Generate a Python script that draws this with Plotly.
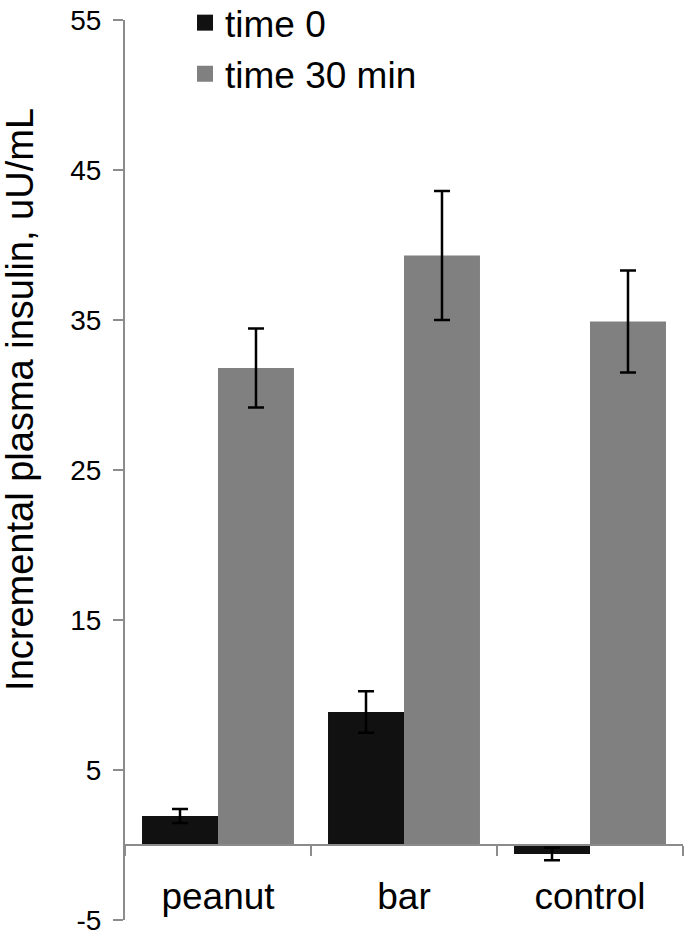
import plotly.graph_objects as go

categories = ["peanut", "bar", "control"]
time0 = [1.93, 8.87, -0.6]
time0_err = [0.47, 1.38, 0.42]
time30 = [31.8, 39.3, 34.9]
time30_err = [2.63, 4.3, 3.4]
y_ticks = [-5, 5, 15, 25, 35, 45, 55]
y_tick_labels = ["-5", "5", "15", "25", "35", "45", "55"]
series_names = ["time 0", "time 30 min"]
y_title = "Incremental plasma insulin, uU/mL"

BLACK = "#111111"
GRAY = "#808080"
AXIS = "#8c8c8c"
FONT = "Liberation Sans, Arial, Helvetica, sans-serif"

fig = go.Figure()
fig.add_trace(go.Bar(
    x=categories, y=time0, name=series_names[0], marker=dict(color=BLACK, line=dict(width=0)),
    error_y=dict(type="data", array=time0_err, color="#000000", thickness=2.5, width=8),
    showlegend=False))
fig.add_trace(go.Bar(
    x=categories, y=time30, name=series_names[1], marker=dict(color=GRAY, line=dict(width=0)),
    error_y=dict(type="data", array=time30_err, color="#000000", thickness=2.5, width=8),
    showlegend=False))
# legend entries (square swatches)
for i, (nm, col) in enumerate(zip(series_names, [BLACK, GRAY])):
    fig.add_trace(go.Scatter(x=[None], y=[None], mode="markers", name=nm, legendgroup=f"g{i}",
                             marker=dict(symbol="square", size=16, color=col, line=dict(width=0))))

fig.update_layout(
    width=685, height=937,
    margin=dict(l=125, r=2, t=20, b=17, autoexpand=False),
    paper_bgcolor="white", plot_bgcolor="white",
    barmode="group", bargap=0.183, bargroupgap=0,
    font=dict(family=FONT, color="#000000"),
    showlegend=True,
    legend=dict(x=0.1075, y=1.031, xanchor="left", yanchor="top",
                font=dict(size=37, family=FONT), bgcolor="rgba(0,0,0,0)",
                itemwidth=30, tracegroupgap=4, traceorder="normal"),
    annotations=[dict(text=y_title, textangle=-90, xref="paper", yref="paper",
                      x=-0.188, y=0.578, xanchor="center", yanchor="middle",
                      showarrow=False, font=dict(size=38, family=FONT, color="#000000"))],
)
fig.update_yaxes(
    range=[-5, 55], tickvals=y_ticks, ticktext=y_tick_labels, showgrid=False, zeroline=False,
    showline=True, linecolor=AXIS, linewidth=2,
    ticks="outside", ticklen=10, tickwidth=2, tickcolor=AXIS,
    tickfont=dict(size=28, family=FONT), ticklabelstandoff=6,
    automargin=False,
)
fig.update_xaxes(
    type="category", range=[-0.5, 2.5], anchor="free", position=5/60,
    showgrid=False, zeroline=False,
    showline=True, linecolor=AXIS, linewidth=2,
    ticks="outside", tickson="boundaries", ticklen=10, tickwidth=2, tickcolor=AXIS,
    tickfont=dict(size=37, family=FONT), ticklabelstandoff=19,
    automargin=False,
)

fig.write_html("out.html", config={"displayModeBar": False},
               post_script="document.body.style.margin='0px';")
